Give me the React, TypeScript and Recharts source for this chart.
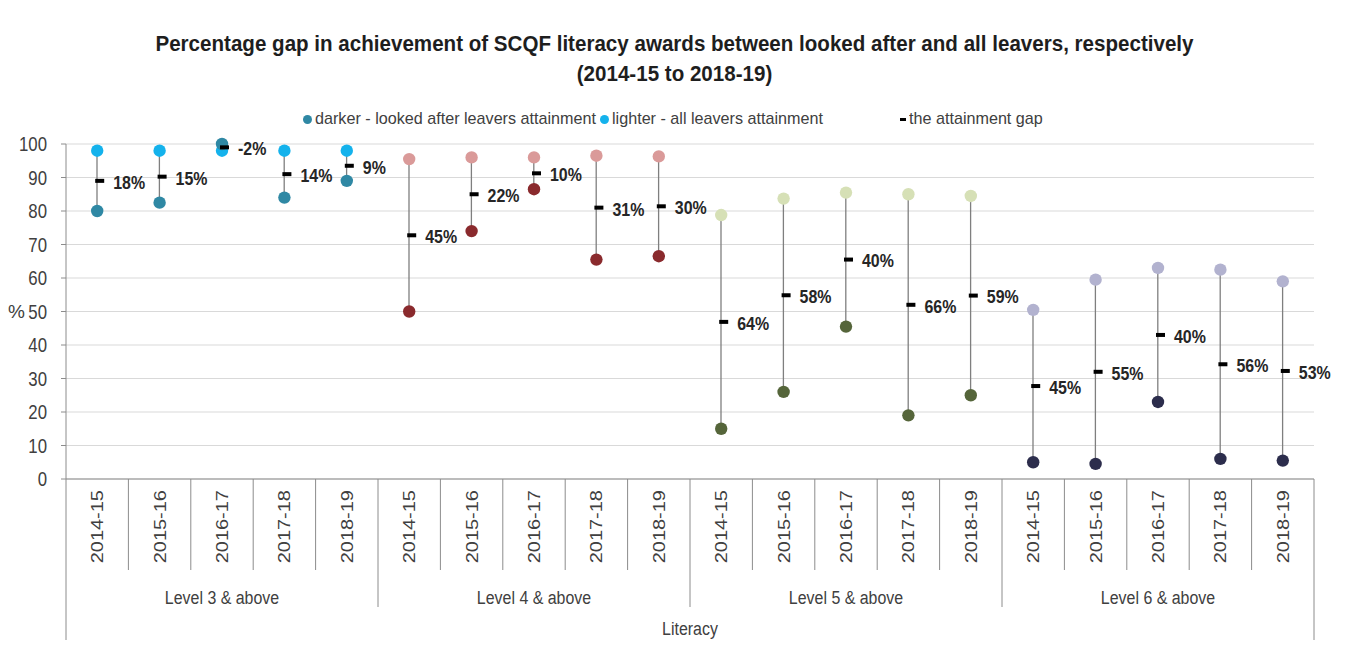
import React from 'react';
import { ComposedChart, Bar, Line, XAxis, YAxis, CartesianGrid, LabelList } from 'recharts';

const years = ['2014-15', '2015-16', '2016-17', '2017-18', '2018-19'];
const levels = ['Level 3 & above', 'Level 4 & above', 'Level 5 & above', 'Level 6 & above'];
const groupTitle = 'Literacy';
const allLeavers = [98, 98, 98, 98, 98, 95.5, 96, 96, 96.5, 96.3, 78.8, 83.7, 85.5, 85, 84.5, 50.5, 59.5, 63, 62.5, 59];
const lookedAfter = [80, 82.5, 100, 84, 89, 50, 74, 86.5, 65.5, 66.5, 15, 26, 45.5, 19, 25, 5, 4.5, 23, 6, 5.5];
const gapLabels = [18, 15, -2, 14, 9, 45, 22, 10, 31, 30, 64, 58, 40, 66, 59, 45, 55, 40, 56, 53];
const yTicks = [0, 10, 20, 30, 40, 50, 60, 70, 80, 90, 100];
const lightColors = ['#14B2EC', '#DA9A99', '#D6E0B6', '#B2B2CF'];
const darkColors = ['#2F88A4', '#8A2A2D', '#55653A', '#2C2D4C'];

const FONT = "'Liberation Sans', Arial, sans-serif";
const SX = 0.84;
const W = 1333;
const H = 632;
const MARGIN = { top: 136, right: 27, bottom: 0, left: 0 };
const YW = 58;
const XH = 161;
const PLOT_W = W - MARGIN.left - MARGIN.right - YW;
const N = years.length * levels.length;

const data = allLeavers.map((light, i) => {
  const dark = lookedAfter[i];
  const g = Math.floor(i / years.length);
  return {
    key: i,
    year: years[i % years.length],
    group: g,
    light,
    dark,
    range: [Math.min(light, dark), Math.max(light, dark)],
    mid: (light + dark) / 2,
    gap: gapLabels[i],
  };
});

const Connector = (p: any) => {
  const cx = p.x + p.width / 2;
  const y1 = Math.min(p.y, p.y + p.height);
  const y2 = Math.max(p.y, p.y + p.height);
  return <line x1={cx} x2={cx} y1={y1} y2={y2} stroke="#7F7F7F" strokeWidth={1.3} />;
};

const LightDot = (p: any) => {
  if (p.cx == null || p.cy == null) return <g key={`ld-${p.index}`} />;
  const row = data[p.index];
  return <circle key={`ld-${p.index}`} cx={p.cx} cy={p.cy} r={6.2} fill={lightColors[row.group]} />;
};

const DarkDot = (p: any) => {
  if (p.cx == null || p.cy == null) return <g key={`dd-${p.index}`} />;
  const row = data[p.index];
  return <circle key={`dd-${p.index}`} cx={p.cx} cy={p.cy} r={6.2} fill={darkColors[row.group]} />;
};

const MidDash = (p: any) => {
  if (p.cx == null || p.cy == null) return <g key={`md-${p.index}`} />;
  return <rect key={`md-${p.index}`} x={p.cx - 2} y={p.cy - 2} width={9} height={4} fill="#000" />;
};

const GapLabel = (p: any) => {
  const { x, y, value } = p;
  if (x == null || y == null) return null;
  return (
    <g transform={`translate(${x + 16},${y + 1}) scale(${SX},1)`}>
      <text x={0} y={0} dy="0.36em" textAnchor="start" fontFamily={FONT} fontSize={19} fontWeight="bold" fill="#262626">
        {`${value}%`}
      </text>
    </g>
  );
};

const YTick = (p: any) => {
  const { x, y, payload } = p;
  return (
    <g transform={`translate(${x},${y}) scale(${SX},1)`}>
      <text x={0} y={0} dy="0.36em" textAnchor="end" fontFamily={FONT} fontSize={20} fill="#404040">
        {payload.value}
      </text>
    </g>
  );
};

const XTick = (p: any) => {
  const { x, y, payload } = p;
  const idx = typeof payload.index === 'number' ? payload.index : p.index;
  const w = typeof p.width === 'number' && p.width > 500 ? p.width : PLOT_W;
  const band = w / N;
  const half = band / 2;
  const inGroup = idx % years.length;
  const stroke = '#8C8C8C';
  const els: any[] = [];
  let sepLen = 91;
  if (idx === 0) sepLen = XH + 20;
  else if (inGroup === 0) sepLen = 128;
  els.push(<line key="sep" x1={x - half} x2={x - half} y1={y} y2={y + sepLen} stroke={stroke} strokeWidth={1} />);
  if (idx === N - 1) {
    els.push(<line key="sepR" x1={x + half} x2={x + half} y1={y} y2={y + XH + 20} stroke={stroke} strokeWidth={1} />);
  }
  els.push(
    <g key="yr" transform={`translate(${x},${y + 11}) scale(${SX},1) rotate(-90)`}>
      <text x={0} y={0} dy="0.36em" textAnchor="end" fontFamily={FONT} fontSize={20} fill="#404040">
        {data[idx] ? data[idx].year : ''}
      </text>
    </g>
  );
  if (inGroup === 2) {
    els.push(
      <g key="grp" transform={`translate(${x},${y + 118}) scale(${SX},1)`}>
        <text x={0} y={0} dy="0.36em" textAnchor="middle" fontFamily={FONT} fontSize={19} fill="#404040">
          {levels[Math.floor(idx / years.length)]}
        </text>
      </g>
    );
  }
  if (idx === N / 2 - 1) {
    els.push(
      <g key="lit" transform={`translate(${x + half},${y + 149}) scale(${SX},1)`}>
        <text x={0} y={0} dy="0.36em" textAnchor="middle" fontFamily={FONT} fontSize={19} fill="#404040">
          {groupTitle}
        </text>
      </g>
    );
  }
  return <g>{els}</g>;
};

const legendItems = [
  { kind: 'dot', color: darkColors[0], label: 'darker - looked after leavers attainment', dx: 299, tx: 307 },
  { kind: 'dot', color: lightColors[0], label: 'lighter - all leavers attainment', dx: 596, tx: 604 },
  { kind: 'dash', color: '#000', label: 'the attainment gap', dx: 895, tx: 901 },
];

export default function App() {
  return (
    <div style={{ position: 'relative', width: W, height: H, fontFamily: FONT, background: '#fff' }}>
      <div style={{ position: 'absolute', left: 0, top: 21, width: W, textAlign: 'center', fontWeight: 'bold', fontSize: 22, color: '#1E1E1E' }}>
        <div style={{ height: 30, lineHeight: '30px', transform: 'scaleX(0.935)', whiteSpace: 'nowrap' }}>
          Percentage gap in achievement of SCQF literacy awards between looked after and all leavers, respectively
        </div>
        <div style={{ height: 30, lineHeight: '30px', transform: 'scaleX(0.935)', whiteSpace: 'nowrap' }}>
          (2014-15 to 2018-19)
        </div>
      </div>
      {legendItems.map((it) => (
        <React.Fragment key={it.label}>
          {it.kind === 'dot' ? (
            <div style={{ position: 'absolute', left: it.dx - 4.5, top: 111 - 4.5, width: 9, height: 9, borderRadius: 4.5, background: it.color }} />
          ) : (
            <div style={{ position: 'absolute', left: it.dx - 3, top: 111 - 1.5, width: 6, height: 3, background: it.color }} />
          )}
          <div
            style={{
              position: 'absolute',
              left: it.tx,
              top: 101,
              height: 20,
              lineHeight: '20px',
              fontSize: 17,
              color: '#404040',
              whiteSpace: 'nowrap',
              transform: 'scaleX(0.95)',
              transformOrigin: 'left center',
            }}
          >
            {it.label}
          </div>
        </React.Fragment>
      ))}
      <div style={{ position: 'absolute', left: 0, top: 0 }}>
        <ComposedChart width={W} height={H} data={data} margin={MARGIN}>
          <CartesianGrid vertical={false} stroke="#D9D9D9" strokeWidth={1} />
          <XAxis
            dataKey="key"
            type="category"
            interval={0}
            height={XH}
            tickLine={false}
            tickSize={0}
            tickMargin={0}
            axisLine={{ stroke: '#8C8C8C' }}
            tick={<XTick />}
          />
          <YAxis
            type="number"
            domain={[0, 100]}
            ticks={yTicks}
            width={YW}
            tickSize={5}
            tickMargin={14}
            axisLine={{ stroke: '#8C8C8C' }}
            tickLine={{ stroke: '#8C8C8C' }}
            tick={<YTick />}
            interval={0}
            label={{ value: '%', position: 'insideLeft', offset: 0, style: { fontFamily: FONT, fontSize: 19, fill: '#404040' } }}
          />
          <Bar dataKey="range" shape={<Connector />} isAnimationActive={false} barSize={4} />
          <Line dataKey="light" stroke="none" dot={LightDot} activeDot={false} isAnimationActive={false} />
          <Line dataKey="dark" stroke="none" dot={DarkDot} activeDot={false} isAnimationActive={false} />
          <Line dataKey="mid" stroke="none" dot={MidDash} activeDot={false} isAnimationActive={false}>
            <LabelList dataKey="gap" content={<GapLabel />} />
          </Line>
        </ComposedChart>
      </div>
    </div>
  );
}
